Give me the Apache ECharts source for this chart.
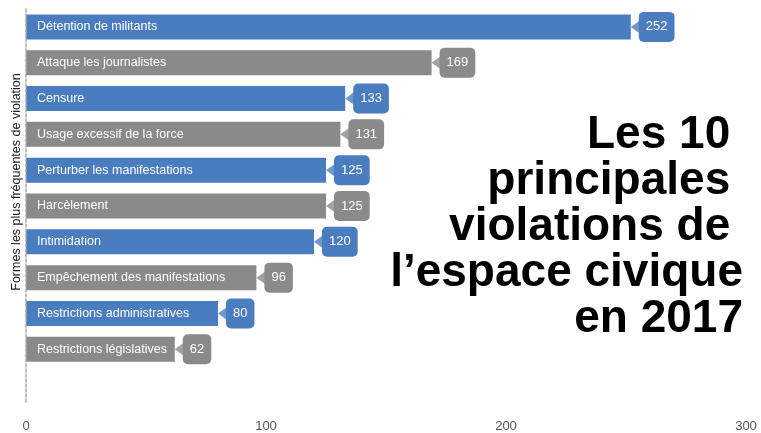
<!DOCTYPE html>
<html>
<head>
<meta charset="utf-8">
<script src="https://cdn.jsdelivr.net/npm/echarts@6/dist/echarts.min.js"></script>
<style>
html,body{margin:0;padding:0;background:#fff;}
#c{width:761px;height:433px;}
</style>
</head>
<body>
<div id="c"></div>
<script>
const categories = [
  "Détention de militants",
  "Attaque les journalistes",
  "Censure",
  "Usage excessif de la force",
  "Perturber les manifestations",
  "Harcèlement",
  "Intimidation",
  "Empêchement des manifestations",
  "Restrictions administratives",
  "Restrictions législatives"
];
const values = [252, 169, 133, 131, 125, 125, 120, 96, 80, 62];
const xTicks = [0, 100, 200, 300];
const titleLines = ["Les 10 ", "principales ", "violations de ", "l’espace civique", "en 2017"];
const axisTitle = "Formes les plus fréquentes de violation";

const palette = ["#4a7dc0", "#8a8a8a"];
const FONT = '"Liberation Sans", Arial, sans-serif';

const axisCats = categories.concat([""]);

const barData = values.map((v, i) => ({
  value: v,
  itemStyle: { color: palette[i % 2] },
  label: { backgroundColor: palette[i % 2] }
}));
const arrowData = values.map((v, i) => ({
  value: [v, categories[i]],
  itemStyle: { color: palette[i % 2] }
}));

const chart = echarts.init(document.getElementById('c'), null, { renderer: 'canvas' });
chart.setOption({
  backgroundColor: '#fff',
  animation: false,
  grid: { left: 26, right: 15, top: 9, bottom: 30, containLabel: false },
  xAxis: {
    type: 'value',
    min: xTicks[0],
    max: xTicks[xTicks.length - 1],
    interval: xTicks[1] - xTicks[0],
    axisLine: { show: false },
    axisTick: { show: false },
    splitLine: { show: false },
    axisLabel: { color: '#555', fontSize: 13, fontFamily: FONT, margin: 17 }
  },
  yAxis: {
    type: 'category',
    inverse: true,
    data: axisCats,
    z: 10,
    axisLine: { show: true, lineStyle: { color: '#aaa', type: [3, 2], width: 1.5 } },
    axisTick: { show: false },
    splitLine: { show: false },
    axisLabel: { inside: true, margin: 11, color: '#fff', fontSize: 12.5, fontFamily: FONT }
  },
  series: [
    {
      type: 'bar',
      data: barData,
      barWidth: 25,
      label: {
        show: true,
        position: 'right',
        distance: 8,
        color: '#fff',
        fontSize: 13,
        fontFamily: FONT,
        padding: [8, 7, 8, 7],
        borderRadius: 5,
        lineHeight: 14
      }
    },
    {
      type: 'scatter',
      data: arrowData,
      symbol: 'triangle',
      symbolRotate: 90,
      symbolSize: [13, 9],
      symbolOffset: [4.5, 0],
      silent: true,
      z: 3
    }
  ],
  graphic: [
    {
      type: 'text',
      x: 743,
      y: 112,
      style: {
        text: titleLines.join('\n'),
        fontSize: 46,
        fontWeight: 'bold',
        fontFamily: FONT,
        align: 'right',
        verticalAlign: 'top',
        lineHeight: 46,
        fill: '#000'
      }
    },
    {
      type: 'text',
      x: 17,
      y: 182,
      rotation: Math.PI / 2,
      style: {
        text: axisTitle,
        fontSize: 12.5,
        fontFamily: FONT,
        align: 'center',
        verticalAlign: 'middle',
        fill: '#222'
      }
    }
  ]
});
</script>
</body>
</html>
